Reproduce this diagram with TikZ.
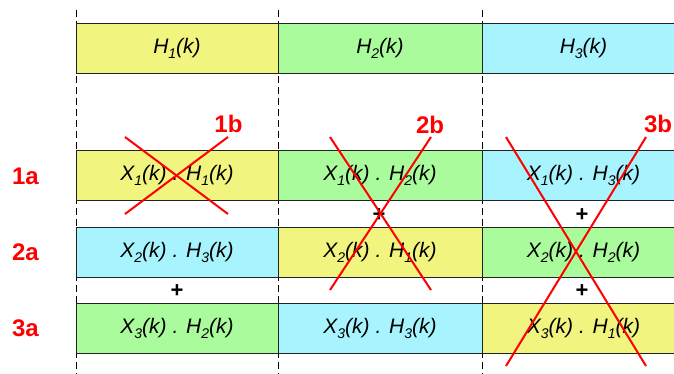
\documentclass[tikz,border=0pt]{standalone}
\usepackage{fontspec}
\setmainfont{Liberation Sans}
\definecolor{cyel}{HTML}{F2F480}
\definecolor{cgrn}{HTML}{AAFB9C}
\definecolor{ccyn}{HTML}{A8F4FE}
\definecolor{cedge}{HTML}{222222}
\newcommand{\sbx}[1]{\raisebox{-5pt}{\fontsize{14}{14}\selectfont #1}}
\newcommand{\tm}[4]{#1\sbx{#2}(k) . #3\sbx{#4}(k)}
\begin{document}
\begin{tikzpicture}[x=1pt,y=-1pt,
  cell/.style={draw=cedge,line width=0.8pt,minimum height=50pt,inner sep=0pt,
    font=\itshape\fontsize{21}{25}\selectfont},
  c1/.style={cell,minimum width=202pt},
  c2/.style={cell,minimum width=204pt},
  c3/.style={cell,minimum width=203pt},
  guide/.style={draw=black,line width=0.8pt,dash pattern=on 7pt off 4pt},
  plussign/.style={font=\bfseries\fontsize{22}{24}\selectfont,inner sep=0pt},
  redlab/.style={text=red,font=\bfseries\fontsize{24}{28}\selectfont,inner sep=0pt},
  cross/.style={draw=red,line width=2pt}]
\useasboundingbox (0,0) rectangle (674,374);
% dashed guides
\coordinate (g1t) at (76,10); \coordinate (g1b) at (76,380);
\coordinate (g2t) at (278,10); \coordinate (g2b) at (278,380);
\coordinate (g3t) at (482,10); \coordinate (g3b) at (482,380);
\draw[guide] (g1t) -- (g1b);
\draw[guide] (g2t) -- (g2b);
\draw[guide] (g3t) -- (g3b);
% header row
\node[c1,fill=cyel] (h1) at (177,48.5) {H\sbx{1}(k)};
\node[c2,fill=cgrn] (h2) at (380,48.5) {H\sbx{2}(k)};
\node[c3,fill=ccyn] (h3) at (583.5,48.5) {H\sbx{3}(k)};
% row 1
\node[c1,fill=cyel] (r1a) at (177,175.5) {\tm{X}{1}{H}{1}};
\node[c2,fill=cgrn] (r1b) at (380,175.5) {\tm{X}{1}{H}{2}};
\node[c3,fill=ccyn] (r1c) at (583.5,175.5) {\tm{X}{1}{H}{3}};
% row 2
\node[c1,fill=ccyn] (r2a) at (177,252) {\tm{X}{2}{H}{3}};
\node[c2,fill=cyel] (r2b) at (380,252) {\tm{X}{2}{H}{1}};
\node[c3,fill=cgrn] (r2c) at (583.5,252) {\tm{X}{2}{H}{2}};
% row 3
\node[c1,fill=cgrn] (r3a) at (177,328) {\tm{X}{3}{H}{2}};
\node[c2,fill=ccyn] (r3b) at (380,328) {\tm{X}{3}{H}{3}};
\node[c3,fill=cyel] (r3c) at (583.5,328) {\tm{X}{3}{H}{1}};
% plus signs
\node[plussign] (p1) at (379,215) {+};
\node[plussign] (p2) at (582,215) {+};
\node[plussign] (p3) at (177,291.5) {+};
\node[plussign] (p4) at (582,291.5) {+};
% row labels
\node[redlab] (l1a) at (25.5,176) {1a};
\node[redlab] (l2a) at (25.5,252) {2a};
\node[redlab] (l3a) at (25.5,328) {3a};
\node[redlab] (l1b) at (228.5,123.5) {1b};
\node[redlab] (l2b) at (430,125) {2b};
\node[redlab] (l3b) at (658,123.5) {3b};
% crosses
\coordinate (x1a) at (125,137); \coordinate (x1b) at (228,214);
\coordinate (x1c) at (125,214); \coordinate (x1d) at (228,137);
\draw[cross] (x1a) -- (x1b);
\draw[cross] (x1c) -- (x1d);
\coordinate (x2a) at (330,137); \coordinate (x2b) at (431,290);
\coordinate (x2c) at (330,290); \coordinate (x2d) at (431,137);
\draw[cross] (x2a) -- (x2b);
\draw[cross] (x2c) -- (x2d);
\coordinate (x3a) at (506,137); \coordinate (x3b) at (646,366);
\coordinate (x3c) at (506,366); \coordinate (x3d) at (646,137);
\draw[cross] (x3a) -- (x3b);
\draw[cross] (x3c) -- (x3d);
\end{tikzpicture}
\end{document}
